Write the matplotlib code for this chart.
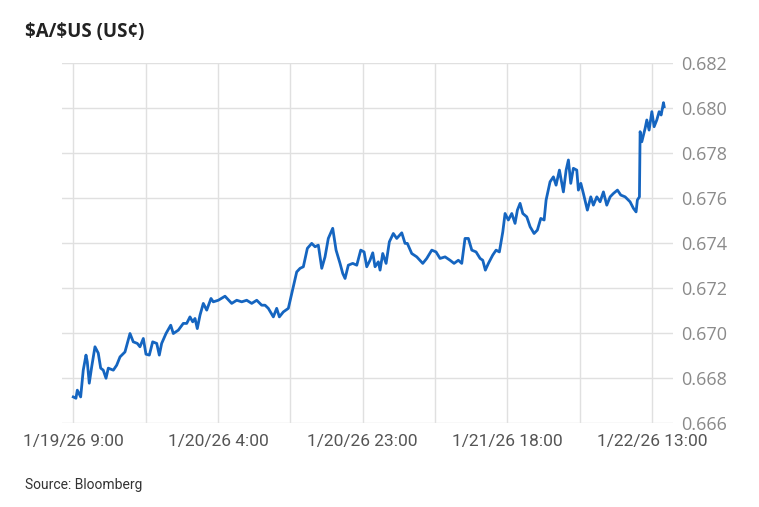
import pandas as pd
import matplotlib
matplotlib.use('Agg')
import matplotlib.pyplot as plt
import matplotlib.dates as mdates
from matplotlib.ticker import FixedLocator, FuncFormatter

# $A/$US intraday, hours after 1/19/26 9:00
hours = [0.0, 0.35, 0.53, 0.97, 1.31, 1.67, 1.84, 2.10, 2.42, 2.85, 3.28, 3.60, 3.94, 4.30, 4.60,
         5.26, 5.70, 6.14, 6.79, 7.45, 7.88, 8.41, 8.76, 9.20, 9.55, 9.99, 10.43, 10.96, 11.30,
         11.61, 12.18, 12.80, 13.14, 13.80, 14.45, 14.90, 15.33, 15.69, 15.99, 16.29, 16.65,
         17.08, 17.53, 18.09, 18.39, 19.05, 19.93, 20.81, 21.47, 22.13, 22.78, 23.44, 24.10,
         24.75, 25.19, 25.62, 26.28, 26.72, 27.07, 27.59, 28.25, 28.60, 28.91, 29.35, 29.79,
         30.22, 30.75, 31.32, 31.76, 32.19, 32.64, 33.07, 33.50, 34.08, 34.52, 35.04, 35.40,
         35.70, 36.13, 36.71, 37.24, 37.76, 38.20, 38.55, 38.98, 39.34, 39.64, 40.07, 40.30,
         40.65, 41.09, 41.52, 42.04, 42.49, 43.15, 43.58, 43.88, 44.46, 45.12, 45.91, 46.43,
         47.09, 47.65, 48.18, 48.84, 49.49, 50.02, 50.58, 51.03, 51.46, 51.90, 52.35, 52.91,
         53.44, 53.79, 54.13, 54.53, 55.10, 55.54, 55.97, 56.42, 56.72, 57.15, 57.60, 58.03,
         58.34, 58.69, 59.05, 59.57, 60.01, 60.53, 60.96, 61.41, 61.85, 62.11, 62.63, 63.07,
         63.42, 63.86, 64.38, 64.74, 65.04, 65.35, 65.69, 66.14, 66.35, 66.67, 67.01, 67.53,
         67.98, 68.32, 68.77, 69.20, 69.64, 70.08, 70.52, 70.95, 71.48, 71.92, 72.49, 73.14,
         73.58, 73.93, 74.10, 74.37, 74.46, 74.68, 75.12, 75.34, 75.64, 76.00, 76.30, 76.65,
         76.96, 77.22, 77.53, 77.62]
rate = [0.66716, 0.66710, 0.66746, 0.66716, 0.66835, 0.66902, 0.66872, 0.66777, 0.66850, 0.66939,
        0.66911, 0.66844, 0.66835, 0.66799, 0.66844, 0.66835, 0.66857, 0.66894, 0.66916, 0.66998,
        0.66961, 0.66954, 0.66939, 0.66976, 0.66906, 0.66902, 0.66961, 0.66954, 0.66902, 0.66954,
        0.66998, 0.67035, 0.66998, 0.67013, 0.67043, 0.67043, 0.67072, 0.67050, 0.67065, 0.67020,
        0.67080, 0.67132, 0.67102, 0.67154, 0.67139, 0.67146, 0.67164, 0.67132, 0.67146, 0.67139,
        0.67146, 0.67132, 0.67146, 0.67124, 0.67124, 0.67110, 0.67072, 0.67110, 0.67072, 0.67094,
        0.67110, 0.67161, 0.67206, 0.67272, 0.67288, 0.67295, 0.67377, 0.67399, 0.67384, 0.67391,
        0.67288, 0.67339, 0.67421, 0.67466, 0.67369, 0.67310, 0.67265, 0.67243, 0.67302, 0.67310,
        0.67302, 0.67369, 0.67361, 0.67295, 0.67324, 0.67357, 0.67295, 0.67317, 0.67280, 0.67354,
        0.67310, 0.67406, 0.67443, 0.67421, 0.67446, 0.67399, 0.67399, 0.67354, 0.67339, 0.67310,
        0.67332, 0.67369, 0.67361, 0.67332, 0.67339, 0.67324, 0.67310, 0.67324, 0.67310, 0.67421,
        0.67421, 0.67369, 0.67361, 0.67332, 0.67324, 0.67280, 0.67310, 0.67347, 0.67369, 0.67361,
        0.67450, 0.67532, 0.67503, 0.67532, 0.67488, 0.67547, 0.67577, 0.67532, 0.67517, 0.67473,
        0.67443, 0.67458, 0.67510, 0.67503, 0.67592, 0.67673, 0.67695, 0.67658, 0.67725, 0.67628,
        0.67725, 0.67770, 0.67666, 0.67733, 0.67725, 0.67636, 0.67666, 0.67621, 0.67547, 0.67606,
        0.67569, 0.67606, 0.67584, 0.67628, 0.67569, 0.67606, 0.67621, 0.67636, 0.67614, 0.67606,
        0.67584, 0.67555, 0.67539, 0.67592, 0.67606, 0.67896, 0.67851, 0.67911, 0.67948, 0.67903,
        0.67985, 0.67918, 0.67948, 0.67985, 0.67970, 0.68025, 0.68007]

start = pd.Timestamp('2026-01-19 09:00')
times = start + pd.to_timedelta(hours, unit='h')
tick_times = [start + pd.Timedelta(hours=h) for h in [0, 19, 38, 57, 76]]
grid_times = [start + pd.Timedelta(hours=9.5 * i) for i in range(9)]
y_ticks = [0.666, 0.668, 0.670, 0.672, 0.674, 0.676, 0.678, 0.680, 0.682]

narrow = ['Roboto', 'DejaVu Sans']

fig = plt.figure(figsize=(7.59, 5.07), dpi=100)
ax = fig.add_axes([0.0817, 0.1657, 0.805, 0.7094])

ax.plot(times, rate, color='#1565c0', linewidth=2.0, solid_joinstyle='round')

ax.set_xlim(start - pd.Timedelta(hours=1.48), start + pd.Timedelta(hours=78.78))
ax.set_ylim(0.666, 0.682)

# vertical grid every 9.5h, labels every 19h
ax.xaxis.set_major_locator(FixedLocator(mdates.date2num(tick_times)))
ax.xaxis.set_minor_locator(FixedLocator(mdates.date2num(grid_times)))

def fmt_time(x, pos):
    d = mdates.num2date(x)
    return f"{d.month}/{d.day}/{d.year % 100} {d.hour}:{d.minute:02d}"

ax.xaxis.set_major_formatter(FuncFormatter(fmt_time))
ax.set_yticks(y_ticks)
ax.yaxis.set_major_formatter(FuncFormatter(lambda v, p: f"{v:.3f}"))
ax.yaxis.tick_right()

ax.grid(True, which='both', axis='x', color='#e0e0e0', linewidth=1)
ax.grid(True, which='major', axis='y', color='#e0e0e0', linewidth=1)
ax.set_axisbelow(True)
for s in ax.spines.values():
    s.set_visible(False)

ax.tick_params(axis='x', which='both', length=0, pad=8, labelsize=12.5, labelcolor='#555555')
ax.tick_params(axis='y', length=0, pad=6, labelsize=13, labelcolor='#8a8a8a')
for lbl in ax.get_xticklabels():
    lbl.set_family(narrow)
for lbl in ax.get_yticklabels():
    lbl.set_family(['Open Sans', 'DejaVu Sans'])

fig.text(0.033, 0.937, r'\$A/\$US (US¢)', fontsize=13.5, fontweight='bold', color='#222222',
         family=['Open Sans', 'DejaVu Sans'], va='center', ha='left')
fig.text(0.033, 0.043, 'Source: Bloomberg', fontsize=10, color='#333333',
         family=narrow, va='center', ha='left')

fig.savefig('out.png', dpi=100)
